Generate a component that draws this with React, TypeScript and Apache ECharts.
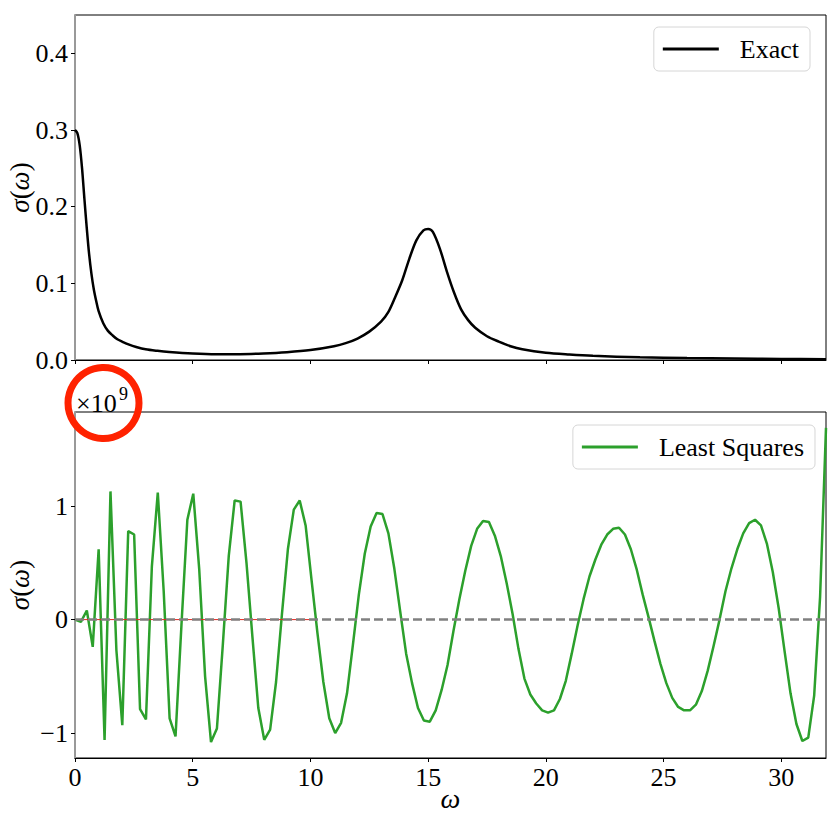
import React, { useEffect, useRef } from "react";
import * as echarts from "echarts";

// ---------- data ----------
// Exact spectral function (top panel), sampled at omega points
const EXACT_OMEGA = [
  0, 0.1, 0.2, 0.3, 0.4, 0.5, 0.6, 0.7, 0.8, 0.9, 1.0, 1.2, 1.4, 1.6, 1.8, 2.0, 2.3, 2.6, 3.0, 3.5,
  4.0, 5.0, 6.0, 7.0, 8.0, 9.0, 10.0, 11.0, 11.5, 12.0, 12.5, 13.0, 13.3, 13.6, 13.9, 14.2, 14.5,
  14.8, 15.0, 15.2, 15.5, 15.8, 16.1, 16.4, 16.7, 17.0, 17.5, 18.0, 18.5, 19.0, 20.0, 21.0, 22.0,
  24.0, 26.0, 28.0, 30.0, 31.9,
];
const EXACT_SIGMA = [
  0.3, 0.296, 0.28, 0.25, 0.21, 0.172, 0.138, 0.112, 0.092, 0.077, 0.064, 0.048, 0.038, 0.032,
  0.027, 0.024, 0.02, 0.017, 0.014, 0.012, 0.0105, 0.0085, 0.0076, 0.0076, 0.0085, 0.0102, 0.013,
  0.018, 0.022, 0.028, 0.037, 0.05, 0.062, 0.082, 0.104, 0.132, 0.156, 0.169, 0.171, 0.167, 0.145,
  0.115, 0.088, 0.066, 0.052, 0.042, 0.031, 0.024, 0.018, 0.014, 0.0095, 0.0072, 0.0055, 0.0035,
  0.0025, 0.0018, 0.0013, 0.001,
];

// Least-squares reconstruction (bottom panel), values in units of 1e9, uniform omega grid
const LS_OMEGA_MAX = 31.9;
const LS_SIGMA = [
  0.0, -0.02, 0.08, -0.24, 0.62, -1.06, 1.13, -0.27, -0.93, 0.78,
  0.75, -0.79, -0.88, 0.47, 1.12, 0.25, -0.87, -1.03, -0.05, 0.88,
  1.11, 0.45, -0.5, -1.08, -0.96, -0.22, 0.56, 1.05, 1.04, 0.5,
  -0.15, -0.78, -1.06, -0.97, -0.55, 0.05, 0.62, 0.97, 1.05, 0.83,
  0.35, -0.12, -0.55, -0.87, -1.0, -0.91, -0.65, -0.22, 0.22, 0.58,
  0.82, 0.94, 0.93, 0.76, 0.45, 0.07, -0.3, -0.56, -0.78, -0.89,
  -0.9, -0.8, -0.62, -0.4, -0.1, 0.18, 0.43, 0.65, 0.8, 0.87,
  0.86, 0.74, 0.56, 0.32, 0.05, -0.26, -0.52, -0.66, -0.74, -0.8,
  -0.82, -0.8, -0.7, -0.54, -0.3, -0.05, 0.18, 0.38, 0.53, 0.66,
  0.75, 0.8, 0.81, 0.75, 0.62, 0.44, 0.22, 0.02, -0.19, -0.39,
  -0.56, -0.69, -0.77, -0.8, -0.8, -0.75, -0.63, -0.45, -0.23, 0.0,
  0.25, 0.45, 0.62, 0.76, 0.85, 0.88, 0.83, 0.67, 0.42, 0.1,
  -0.28, -0.65, -0.92, -1.07, -1.04, -0.67, 0.2, 1.69,
];

// reference lines in bottom panel
const ZERO_LINE_X = [0, 31.9];
const RED_LINE_X = [0, 10.2];

const X_TICKS = [0, 5, 10, 15, 20, 25, 30];
const Y_TICKS_TOP = [0, 0.1, 0.2, 0.3, 0.4];
const Y_TICKS_BOTTOM = [-1, 0, 1];

const FONT = "Liberation Serif";

export default function App() {
  const ref = useRef<HTMLDivElement>(null);

  useEffect(() => {
    if (!ref.current) return;
    const chart = echarts.init(ref.current, undefined, { renderer: "svg" });

    const exactData = EXACT_OMEGA.map((w, i) => [w, EXACT_SIGMA[i]]);
    const n = LS_SIGMA.length;
    const lsData = LS_SIGMA.map((v, i) => [(i * LS_OMEGA_MAX) / (n - 1), v]);
    const zeroData = ZERO_LINE_X.map((w) => [w, 0]);
    const redData = RED_LINE_X.map((w) => [w, 0]);

    const labelStyle = { fontFamily: FONT, fontSize: 26, color: "#000" };
    const axisNameRich = {
      i: { fontFamily: FONT, fontSize: 27, fontStyle: "italic", color: "#000" },
      n: { fontFamily: FONT, fontSize: 27, color: "#000" },
    };

    const makeX = (gridIndex: number, showLabels: boolean) => ({
      type: "value",
      gridIndex,
      min: 0,
      max: LS_OMEGA_MAX,
      axisLine: { show: true, onZero: false, lineStyle: { color: "#000", width: 1 } },
      axisTick: { show: true, inside: false, length: 4, customValues: X_TICKS, lineStyle: { color: "#000", width: 1 } },
      axisLabel: {
        show: showLabels,
        customValues: X_TICKS,
        margin: 6,
        ...labelStyle,
      },
      splitLine: { show: false },
      ...(showLabels
        ? {
            name: "ω",
            nameLocation: "middle",
            nameGap: 26,
            nameMoveOverlap: false,
            nameTextStyle: { fontFamily: FONT, fontSize: 28, fontStyle: "italic", color: "#000" },
          }
        : {}),
    });

    const legendBase = {
      orient: "horizontal",
      icon: "rect",
      itemWidth: 56,
      itemHeight: 3,
      borderColor: "#d6d6d6",
      borderWidth: 1,
      borderRadius: 5,
      padding: [9, 11, 9, 9],
      backgroundColor: "rgba(255,255,255,0.8)",
      textStyle: { ...labelStyle, padding: [0, 0, 0, 16] },
    };

    const gridBase = {
      left: 75,
      right: 4,
      show: true,
      borderColor: "#000",
      borderWidth: 1,
      containLabel: false,
      outerBoundsMode: "none",
    };

    const yName = "{i|σ}{n|(}{i|ω}{n|)}";

    const option = {
      animation: false,
      backgroundColor: "#fff",
      grid: [
        { ...gridBase, top: 15, height: 345 },
        { ...gridBase, top: 412, height: 346 },
      ],
      xAxis: [makeX(0, false), makeX(1, true)],
      yAxis: [
        {
          type: "value",
          gridIndex: 0,
          min: 0,
          max: 0.45,
          axisLine: { show: true, onZero: false, lineStyle: { color: "#999", width: 2 } },
          axisTick: { show: true, length: 4, customValues: Y_TICKS_TOP, lineStyle: { color: "#000", width: 1 } },
          axisLabel: {
            customValues: Y_TICKS_TOP,
            margin: 7,
            formatter: (v: number) => v.toFixed(1),
            ...labelStyle,
          },
          splitLine: { show: false },
          name: yName,
          nameLocation: "middle",
          nameGap: 42,
          nameMoveOverlap: false,
          nameTextStyle: { rich: axisNameRich },
        },
        {
          type: "value",
          gridIndex: 1,
          min: -1.22,
          max: 1.83,
          axisLine: { show: true, onZero: false, lineStyle: { color: "#999", width: 2 } },
          axisTick: { show: true, length: 4, customValues: Y_TICKS_BOTTOM, lineStyle: { color: "#000", width: 1 } },
          axisLabel: {
            customValues: Y_TICKS_BOTTOM,
            margin: 7,
            formatter: (v: number) => (v < 0 ? "\u2212" + Math.abs(v) : String(v)),
            ...labelStyle,
          },
          splitLine: { show: false },
          name: yName,
          nameLocation: "middle",
          nameGap: 42,
          nameMoveOverlap: false,
          nameTextStyle: { rich: axisNameRich },
        },
      ],
      legend: [
        { ...legendBase, data: ["Exact"], right: 20, top: 27 },
        { ...legendBase, data: ["Least Squares"], right: 15, top: 425 },
      ],
      series: [
        {
          name: "Exact",
          type: "line",
          xAxisIndex: 0,
          yAxisIndex: 0,
          data: exactData,
          symbol: "none",
          smooth: 0.3,
          lineStyle: { color: "#000", width: 2.5 },
          itemStyle: { color: "#000" },
        },
        {
          name: "Least Squares",
          type: "line",
          xAxisIndex: 1,
          yAxisIndex: 1,
          data: lsData,
          symbol: "none",
          lineStyle: { color: "#2ca02c", width: 2.5 },
          itemStyle: { color: "#2ca02c" },
        },
        {
          name: "ref-red",
          type: "line",
          xAxisIndex: 1,
          yAxisIndex: 1,
          data: redData,
          symbol: "none",
          silent: true,
          lineStyle: { color: "#e8231c", width: 1 },
        },
        {
          name: "zero",
          type: "line",
          xAxisIndex: 1,
          yAxisIndex: 1,
          data: zeroData,
          symbol: "none",
          silent: true,
          lineStyle: { color: "#808080", width: 2.5, type: [9, 4] },
        },
      ],
      graphic: [
        {
          type: "text",
          left: 76,
          top: 390,
          style: { text: "×10", fontFamily: FONT, fontSize: 26, fill: "#000" },
        },
        {
          type: "text",
          left: 119,
          top: 385,
          style: { text: "9", fontFamily: FONT, fontSize: 18, fill: "#000" },
        },
        {
          type: "circle",
          shape: { cx: 103.5, cy: 403, r: 35.5 },
          style: { fill: "none", stroke: "#ff2200", lineWidth: 7 },
          z: 100,
        },
      ],
    };

    chart.setOption(option as any);
    return () => chart.dispose();
  }, []);

  return (
    <div
      ref={ref}
      style={{ position: "absolute", left: 0, top: 0, width: 830, height: 830, background: "#fff" }}
    />
  );
}
